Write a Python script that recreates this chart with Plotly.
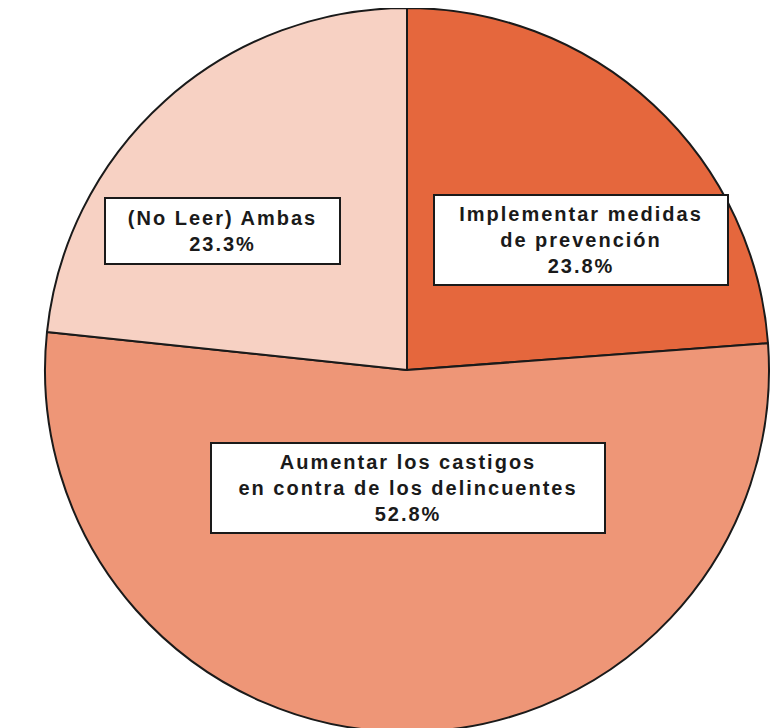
import plotly.graph_objects as go

# Survey answers (share of respondents, %)
labels = [
    "Implementar medidas de prevención",
    "Aumentar los castigos en contra de los delincuentes",
    "(No Leer) Ambas",
]
label_lines = [
    ["Implementar medidas", "de prevención"],
    ["Aumentar los castigos", "en contra de los delincuentes"],
    ["(No Leer) Ambas"],
]
values = [23.8, 52.8, 23.3]
colors = ["#E5673D", "#EE9677", "#F7D1C3"]

W, H = 781, 728
OFF = 8  # page body margin

fig = go.Figure(
    go.Pie(
        labels=labels,
        values=values,
        sort=False,
        direction="clockwise",
        rotation=0,
        textinfo="none",
        hovertemplate="%{label}<br>%{value:.1f}%<extra></extra>",
        marker=dict(colors=colors, line=dict(color="#1a1a1a", width=2)),
        domain=dict(x=[37 / W, 761 / W], y=[4 / H, 1.0]),
    )
)

# label boxes: centre (px), box size (px)
boxes = [
    (581, 240, 296, 92),
    (408, 488, 396, 92),
    (223, 231, 237, 68),
]
pad, bw = 5, 2
for lines, v, (cx, cy, bwid, bht) in zip(label_lines, values, boxes):
    txt = "<br>".join(
        f"<span style='letter-spacing:2px'>{s}</span>" for s in lines + [f"{v:.1f}%"]
    )
    fig.add_annotation(
        x=(cx - OFF) / W,
        y=1 - (cy - OFF) / H,
        xref="paper",
        yref="paper",
        xanchor="center",
        yanchor="middle",
        text=txt,
        showarrow=False,
        align="center",
        width=bwid - 2 * pad - 2 * bw,
        height=bht - 2 * pad - 2 * bw,
        bgcolor="white",
        bordercolor="#1a1a1a",
        borderwidth=bw,
        borderpad=pad,
        font=dict(family="Liberation Sans, Arial", size=20, color="#1a1a1a", weight="bold"),
    )

fig.update_layout(
    width=W,
    height=H,
    margin=dict(l=0, r=0, t=0, b=0),
    paper_bgcolor="white",
    plot_bgcolor="white",
    showlegend=False,
)

fig.write_html("out.html")
